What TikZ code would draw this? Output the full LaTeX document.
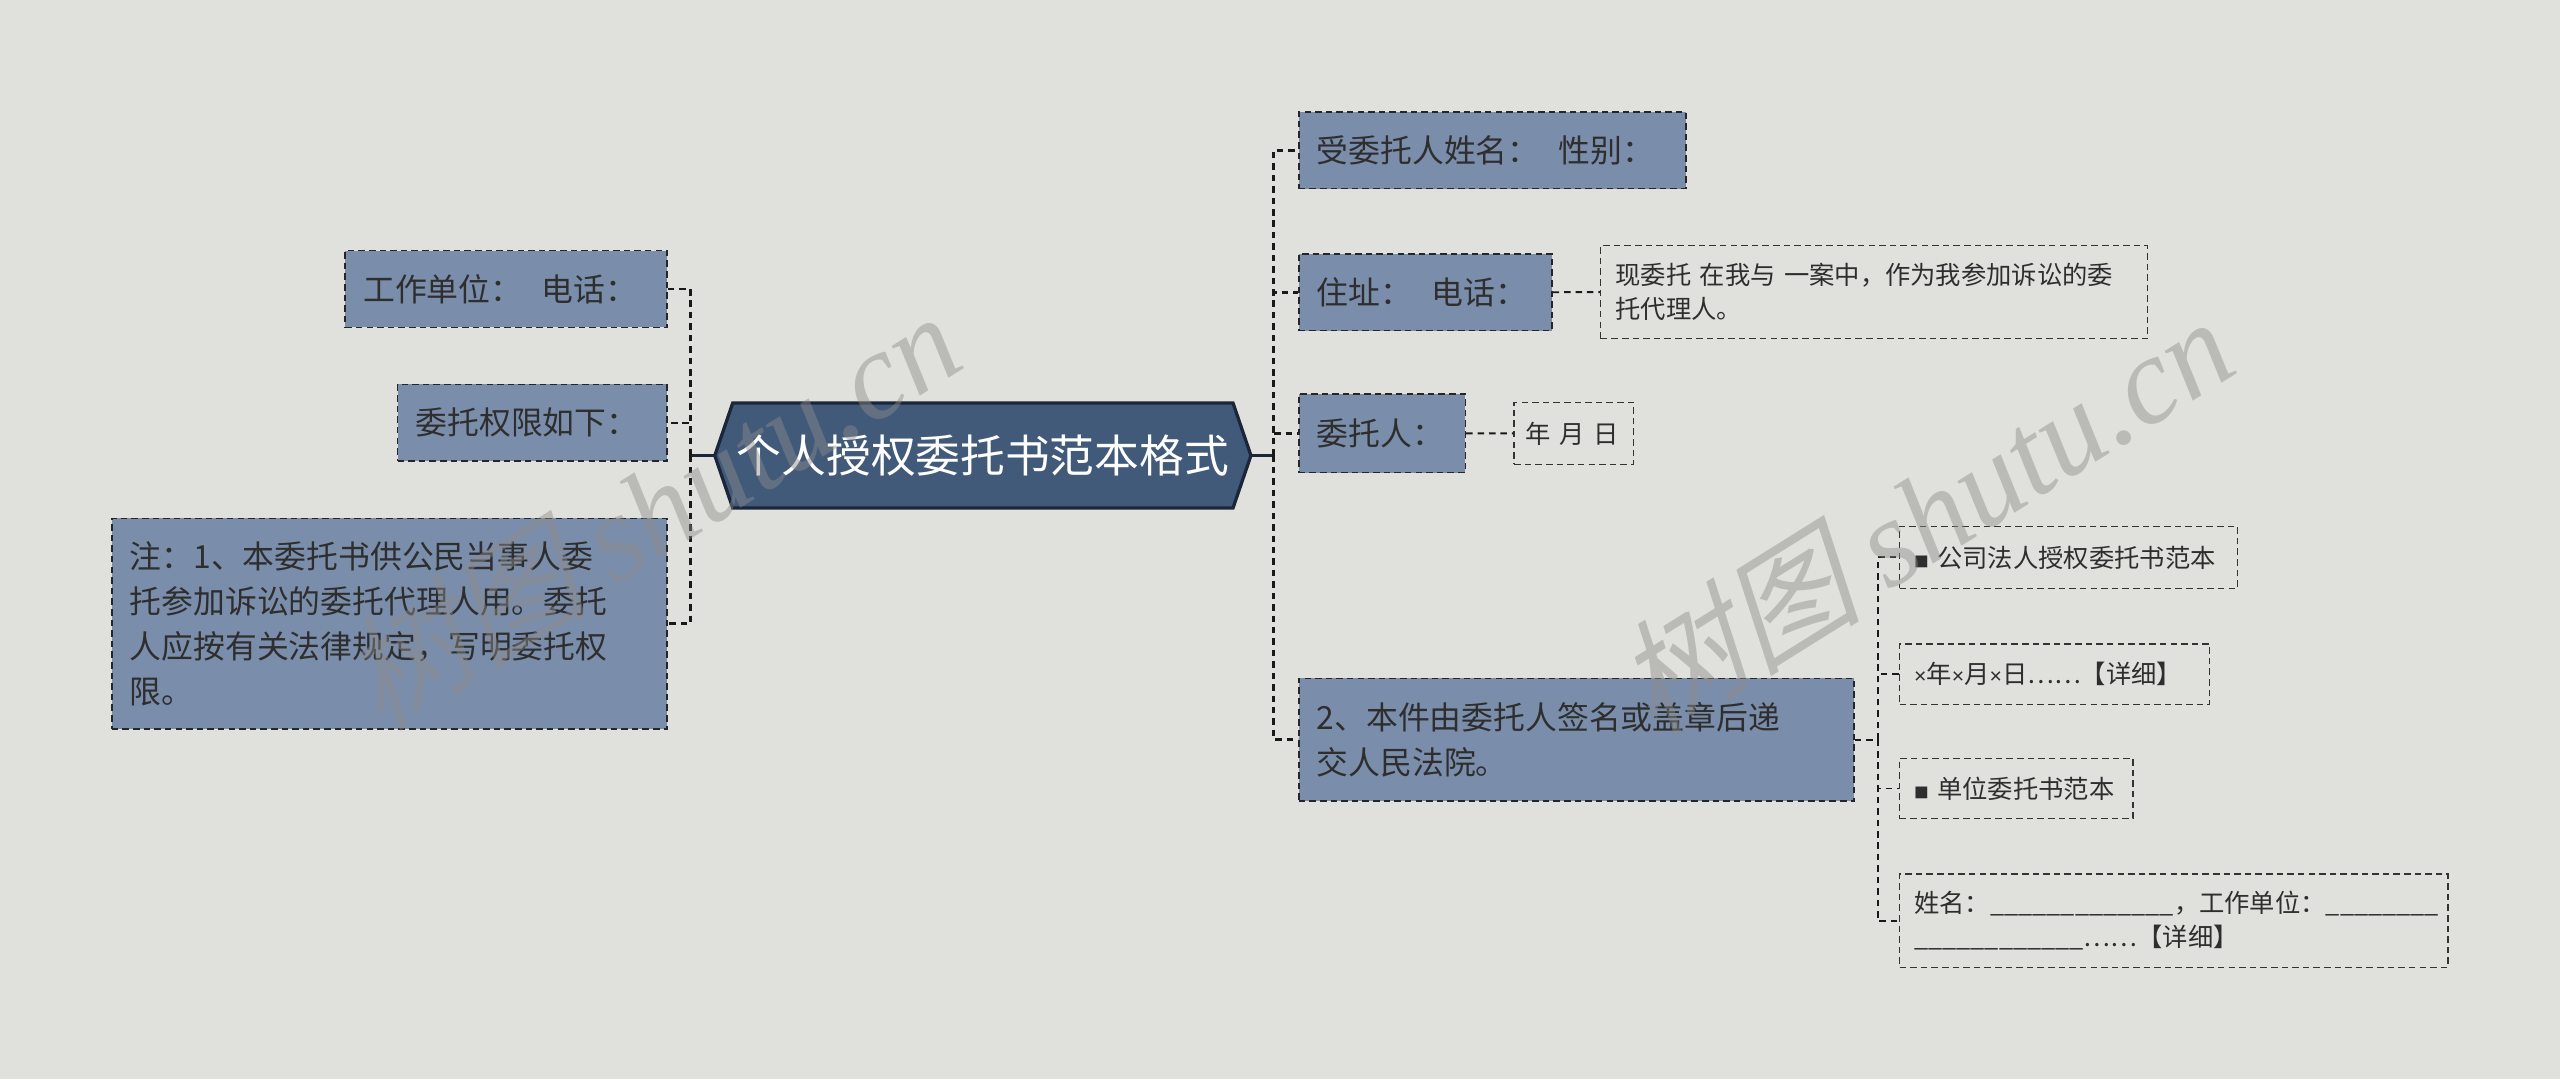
\documentclass[tikz,border=0pt]{standalone}
\usepackage{fontspec}
\setmainfont{Noto Sans CJK SC}
\newfontfamily\wmlatin{Liberation Serif}
\newfontfamily\latinsans{Liberation Sans}
\newfontfamily\wmcjk[FakeSlant=0.25]{Noto Sans CJK SC}
\pgfdeclarelayer{bg}
\pgfsetlayers{bg,main}
\definecolor{bgcol}{HTML}{E0E1DC}
\definecolor{boxfill}{HTML}{7A8DAA}
\definecolor{cfill}{HTML}{425A79}
\definecolor{cborder}{HTML}{1B2638}
\definecolor{txt}{HTML}{2E2E2E}
\tikzset{
  box/.style={draw=black!85, dash pattern=on 4pt off 2.5pt, line width=1pt,
    fill=boxfill, text=txt, font=\fontsize{19.5}{27.7}\selectfont,
    inner xsep=11pt, inner ysep=0pt, anchor=north west, align=left},
  leaf/.style={draw=black!80, dash pattern=on 4pt off 2.5pt, line width=0.9pt,
    text=txt, font=\fontsize{15.5}{21}\selectfont,
    inner xsep=9pt, inner ysep=0pt, anchor=north west, align=left},
  conn/.style={draw=black!90, line width=1.6pt, dash pattern=on 4pt off 3pt},
  solidconn/.style={draw=cborder, line width=2.2pt},
  wm/.style={text=black!45, opacity=0.45, font=\fontsize{76}{76}\selectfont}
}
\newcommand{\gapx}{\hspace{0.6em}}
\newcommand{\smx}{{\latinsans\fontsize{13}{13}\selectfont ×}}
\begin{document}
\begin{tikzpicture}[x=1pt,y=-1pt]
\useasboundingbox (0,0) rectangle (1568,661);

% central node
\node[text=white, font=\fontsize{27.4}{30}\selectfont, minimum width=328pt,
  minimum height=64pt, inner sep=0pt] (c) at (602,279) {个人授权委托书范本格式};
\begin{pgfonlayer}{bg}
\fill[bgcol] (0,0) rectangle (1568,661);
\draw[fill=cfill, draw=cborder, line width=2pt]
  (c.west) -- ([xshift=11pt]c.north west) -- ([xshift=-11pt]c.north east)
  -- (c.east) -- ([xshift=-11pt]c.south east) -- ([xshift=11pt]c.south west) -- cycle;
\end{pgfonlayer}

% left
\node[box, text width=175pt, minimum height=47pt] (l1) at (211,153) {工作单位：\gapx 电话：};
\node[box, text width=143pt, minimum height=47pt] (l2) at (243,235) {委托权限如下：};
\node[box, text width=318pt, minimum height=129pt] (l3) at (68,317)
  {注：1、本委托书供公民当事人委\\托参加诉讼的委托代理人用。委托\\人应按有关法律规定，写明委托权\\限。};

% right
\node[box, text width=215pt, minimum height=47pt] (r1) at (795,68) {受委托人姓名：\gapx 性别：};
\node[box, text width=133pt, minimum height=47pt] (r2) at (795,155) {住址：\gapx 电话：};
\node[box, text width=80pt, minimum height=48pt] (r3) at (795,241) {委托人：};
\node[box, text width=318pt, minimum height=75pt] (r4) at (795,415)
  {2、本件由委托人签名或盖章后递\\交人民法院。};

\node[leaf, text width=317pt, minimum height=57pt] (r2a) at (980,150)
  {现委托 在我与 一案中，作为我参加诉讼的委\\托代理人。};
\node[leaf, inner xsep=7pt, text width=59pt, minimum height=38pt] (r3a) at (927,246) {年 月 日};

\node[leaf, text width=189pt, minimum height=38pt] (k1) at (1163,322)
  {{\fontsize{9}{9}\selectfont ■} 公司法人授权委托书范本};
\node[leaf, text width=172pt, minimum height=37pt] (k2) at (1163,394)
  {\smx 年\smx 月\smx 日……【详细】};
\node[leaf, text width=125pt, minimum height=37pt] (k3) at (1163,464)
  {{\fontsize{9}{9}\selectfont ■} 单位委托书范本};
\node[leaf, text width=318pt, minimum height=57pt] (k4) at (1163,535)
  {姓名：\_\_\_\_\_\_\_\_\_\_\_\_\_，工作单位：\_\_\_\_\_\_\_\_\\\_\_\_\_\_\_\_\_\_\_\_\_……【详细】};

% connectors
\coordinate (lj) at (423,279);
\coordinate (rj) at (780,279);
\coordinate (kj) at (1150,453);
\draw[solidconn] (c.west) -- (lj);
\draw[solidconn] (c.east) -- (rj);
\draw[conn] (lj) |- (l1.east);
\draw[conn] (lj) |- (l2.east);
\draw[conn] (lj) |- (l3.east);
\draw[conn] (rj) |- (r1.west);
\draw[conn] (rj) |- (r2.west);
\draw[conn] (rj) |- (r3.west);
\draw[conn] (rj) |- (r4.west);
\draw[conn, line width=1.2pt] (r2.east) -- (r2a.west);
\draw[conn, line width=1.2pt] (r3.east) -- (r3a.west);
\draw[conn, line width=1.2pt] (r4.east) -- (kj);
\draw[conn, line width=1.2pt] (kj) |- (k1.west);
\draw[conn, line width=1.2pt] (kj) |- (k2.west);
\draw[conn, line width=1.2pt] (kj) |- (k3.west);
\draw[conn, line width=1.2pt] (kj) |- (k4.west);

% watermarks
\node[wm, rotate=32] (wm1) at (398,312) {{\wmcjk 树图} {\wmlatin\itshape shutu.cn}};
\node[wm, rotate=32] (wm2) at (1178,315) {{\wmcjk 树图} {\wmlatin\itshape shutu.cn}};
\end{tikzpicture}
\end{document}
